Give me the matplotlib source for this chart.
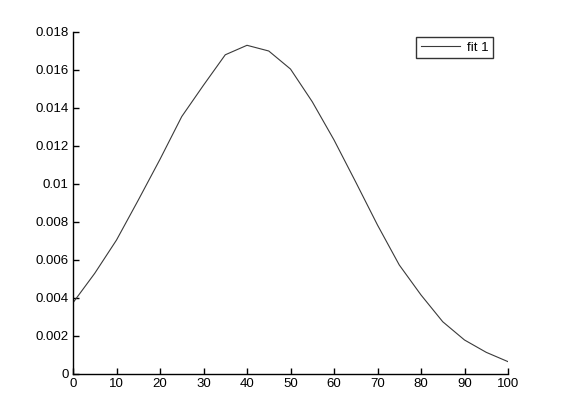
import matplotlib
matplotlib.use("Agg")
import matplotlib.pyplot as plt

x_values = [0, 5, 10, 15, 20, 25, 30, 35, 40, 45, 50, 55, 60, 65, 70, 75, 80, 85, 90, 95, 100]
fit_values = [0.00375, 0.0053, 0.00705, 0.00915, 0.0113, 0.01355, 0.0152, 0.0168, 0.0173, 0.0170,
              0.01605, 0.01433, 0.01232, 0.0101, 0.00784, 0.00574, 0.00416, 0.00275, 0.00179,
              0.00114, 0.00065]
x_ticks = [0, 10, 20, 30, 40, 50, 60, 70, 80, 90, 100]
y_ticks = [0, 0.002, 0.004, 0.006, 0.008, 0.01, 0.012, 0.014, 0.016, 0.018]
y_tick_labels = ['0', '0.002', '0.004', '0.006', '0.008', '0.01', '0.012', '0.014', '0.016', '0.018']
series_label = 'fit 1'

plt.rcParams['font.family'] = ['Liberation Sans', 'DejaVu Sans']

fig = plt.figure(figsize=(5.61, 4.20), dpi=100)
ax = fig.add_axes([73/561, 46/420, 435/561, 342/420])
ax.plot(x_values, fit_values, color='#3a3a3a', linewidth=0.8, label=series_label)
ax.set_xlim(0, 100)
ax.set_ylim(0, 0.018)
ax.set_xticks(x_ticks)
ax.set_xticklabels([str(t) for t in x_ticks])
ax.set_yticks(y_ticks)
ax.set_yticklabels(y_tick_labels)
for s in ['top', 'right']:
    ax.spines[s].set_visible(False)
for s in ['left', 'bottom']:
    ax.spines[s].set_linewidth(1.0)
    ax.spines[s].set_color('black')
ax.tick_params(direction='in', length=4, width=1.0, labelsize=9.5, pad=3, colors='black')
leg = ax.legend(loc='upper right', bbox_to_anchor=(493/561, (420-37)/420), bbox_transform=fig.transFigure,
                frameon=True, fancybox=False, fontsize=9.5, handlelength=3.0, handletextpad=0.5,
                borderpad=0.35, borderaxespad=0)
leg.get_frame().set_edgecolor('black')
leg.get_frame().set_linewidth(1.0)
fig.savefig('out.png', dpi=100)
